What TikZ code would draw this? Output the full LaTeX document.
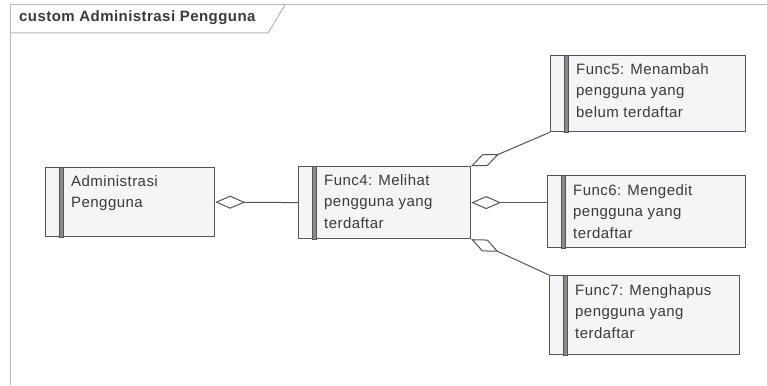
\documentclass[tikz,border=0pt]{standalone}
\usepackage{fontspec}
\setmainfont{Liberation Sans}[LetterSpace=3]
\usetikzlibrary{arrows.meta}
\definecolor{framecol}{HTML}{B8B8B8}
\definecolor{boxfill}{HTML}{F5F5F8}
\definecolor{boxline}{HTML}{555555}
\definecolor{barfill}{HTML}{8A8A8A}
\definecolor{txtcol}{HTML}{3A3A3A}
\tikzset{
  ubox/.style={draw=boxline, fill=boxfill, line width=1.2pt, rectangle, inner sep=0pt, anchor=north west},
  ubar/.style={draw=boxline, fill=barfill, line width=0.8pt},
  utext/.style={text=txtcol, font=\fontsize{15}{21.5}\selectfont, align=left, anchor=north west, inner sep=0pt},
  agg/.style={draw=boxline, line width=1pt, {Diamond[open, length=30pt, width=13pt, fill=white]}-},
  framesty/.style={draw=framecol, line width=1pt}
}
\newcommand\umlbox[7]{% name, left, top, width, height, text, textshift
  \node[ubox, minimum width=#4pt, minimum height=#5pt] (#1) at (#2,#3) {};
  \draw[ubar] ([xshift=14pt]#1.north west) rectangle ([xshift=18pt]#1.south west);
  \node[utext] (#1t) at ([xshift=26pt,yshift=-#7pt]#1.north west) {#6};
}
\begin{document}
\begin{tikzpicture}[x=1pt,y=-1pt]
\useasboundingbox[fill=white] (0,0) rectangle (767,385);
% frame
\draw[framesty] (767,5) -- (10,5) -- (10,385);
\draw[framesty] (10,33) -- (268,33) -- (285,5);
\node[anchor=west, inner sep=0pt, text=txtcol, font=\fontsize{15}{17}\selectfont\bfseries] (title) at (19,18) {custom Administrasi Pengguna};
% boxes
\umlbox{adm}{45}{167}{169}{69}{Administrasi\\Pengguna}{8}
\umlbox{f4}{298}{166}{172}{72}{Func4: Melihat\\pengguna yang\\terdaftar}{8}
\umlbox{f5}{550}{55}{195}{76}{Func5: Menambah\\pengguna yang\\belum terdaftar}{8}
\umlbox{f6}{547}{175}{198}{72}{Func6: Mengedit\\pengguna yang\\terdaftar}{9}
\umlbox{f7}{549}{275}{190}{79}{Func7: Menghapus\\pengguna yang\\terdaftar}{9}
% connectors
\draw[agg] (adm.east) -- (f4.west);
\draw[agg] (f4.north east) -- (f5.south west);
\draw[agg] (f4.east) -- (f4.east -| f6.west);
\draw[agg] (f4.south east) -- (f7.north west);
\end{tikzpicture}
\end{document}
